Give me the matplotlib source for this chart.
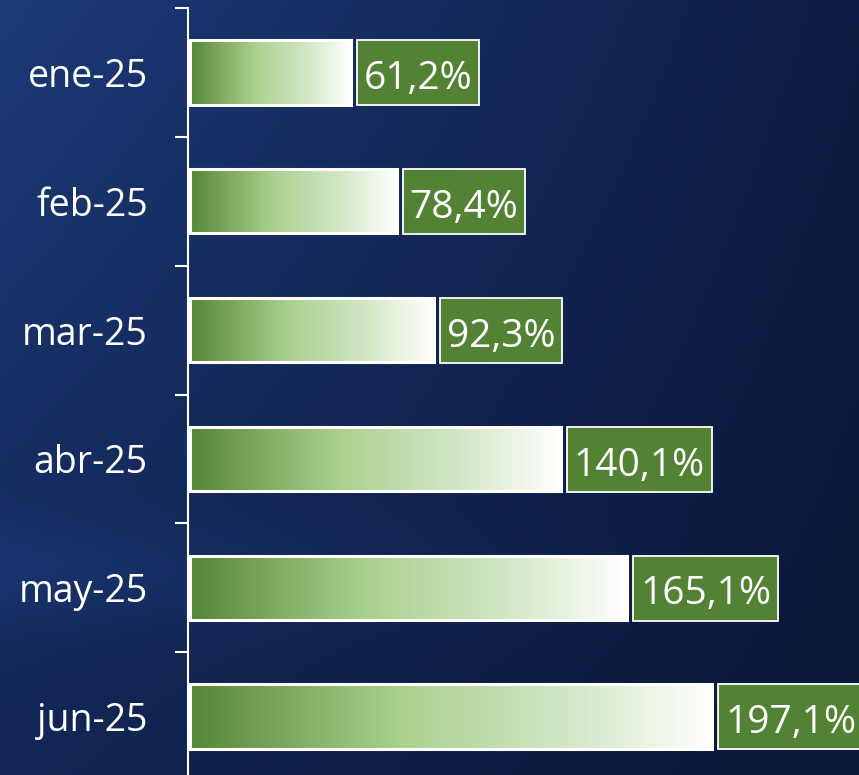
import numpy as np
import matplotlib.pyplot as plt
from matplotlib.colors import LinearSegmentedColormap, to_rgb
from matplotlib.patches import Rectangle

meses = ['ene-25', 'feb-25', 'mar-25', 'abr-25', 'may-25', 'jun-25']
valores = [61.2, 78.4, 92.3, 140.1, 165.1, 197.1]
etiquetas = ['61,2%', '78,4%', '92,3%', '140,1%', '165,1%', '197,1%']

plt.rcParams['font.family'] = ['Open Sans', 'DejaVu Sans']

W, H = 859, 775
fig = plt.figure(figsize=(W / 100, H / 100), dpi=100)

# fondo azul oscuro con degradado
bg = fig.add_axes([0, 0, 1, 1])
yy, xx = np.mgrid[0:1:200j, 0:1:220j]
claro = np.array(to_rgb('#1d3c7c'))
oscuro = np.array(to_rgb('#0a1839'))
t = 0.05 + 0.8 * xx + 0.55 * yy * (1 - xx) + 0.2 * yy * xx
banda = 0.25 * np.exp(-((yy - 0.74) / 0.07) ** 2) * np.clip(1 - 1.2 * xx, 0, 1)
t = np.clip(t - banda, 0, 1)[..., None]
img = claro * (1 - t) + oscuro * t
bg.imshow(img, extent=[0, 1, 0, 1], aspect='auto', origin='upper')
bg.axis('off')

ax = fig.add_axes([188 / W, -6 / H, 665 / W, 773 / H])
ax.set_facecolor('none')
ax.set_xlim(0, 250)
ax.set_ylim(len(meses) - 0.5, -0.5)

verde = LinearSegmentedColormap.from_list(
    'verde', [(0, '#568637'), (0.4, '#a9d18e'), (0.72, '#d2e6c5'), (1, '#ffffff')])
grad = np.linspace(0, 1, 256)[None, :]

px = 250 / 665  # unidades de datos por pixel en x
fig.canvas.draw()
renderer = fig.canvas.get_renderer()

for i, (v, lab) in enumerate(zip(valores, etiquetas)):
    y0, y1 = i - 0.25, i + 0.25
    ax.imshow(grad, cmap=verde, extent=[0.8, v, y1, y0], aspect='auto',
              interpolation='bicubic', zorder=2)
    ax.add_patch(Rectangle((0.8, y0), v - 0.8, 0.5, fill=False,
                           ec='white', lw=2.2, zorder=3))
    # caja verde con el valor
    x0 = v + 6 * px
    txt = ax.text(x0 + 7 * px, i + 0.13, lab, ha='left', va='baseline',
                  color='white', fontsize=28, zorder=5)
    ancho = txt.get_window_extent(renderer).width * px
    ax.add_patch(Rectangle((x0, y0), ancho + 14 * px, 0.505, fc='#548235',
                           ec='white', lw=1.3, zorder=4, clip_on=False))

ax.set_xlim(0, 250)
ax.set_ylim(len(meses) - 0.5, -0.5)

for s in ['top', 'right', 'bottom']:
    ax.spines[s].set_visible(False)
ax.spines['left'].set_color('white')
ax.spines['left'].set_linewidth(1.5)
ax.set_xticks([])
ax.set_yticks(range(len(meses)))
ax.set_yticklabels(meses, color='white', fontsize=27)
ax.tick_params(axis='y', which='major', length=0, pad=29)
ax.set_yticks(np.arange(-0.5, len(meses), 1), minor=True)
ax.tick_params(axis='y', which='minor', length=9.5, width=1.5,
               color='white', direction='out')

fig.savefig('out.png', dpi=100)
